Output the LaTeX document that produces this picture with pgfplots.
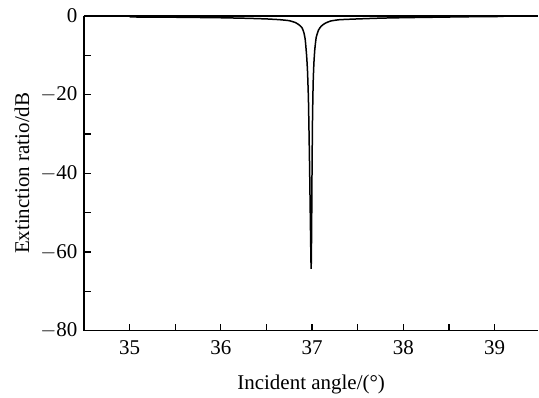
\documentclass[border=0pt]{standalone}
\usepackage{pgfplots}
\pgfplotsset{compat=1.18}
\usepackage{fontspec}
\setmainfont{Liberation Serif}

\begin{document}
\begin{tikzpicture}
\begin{axis}[
    width=455pt, height=315pt,
    scale only axis,
    xmin=34.5, xmax=39.48,
    ymin=-80, ymax=0,
    axis lines*=left,
    axis line style={line width=1.2pt},
    tick align=inside,
    tick style={line width=1.2pt, black},
    major tick length=7pt,
    minor tick length=7pt,
    xtick={35,36,37,38,39},
    minor xtick={35.5,36.5,37.5,38.5},
    ytick={-80,-60,-40,-20,0},
    minor ytick={-70,-50,-30,-10},
    yticklabels={$-$80,$-$60,$-$40,$-$20,0},
    font=\fontsize{21}{24}\selectfont,
    tick label style={font=\fontsize{21}{24}\selectfont},
    label style={font=\fontsize{21}{24}\selectfont},
    /pgf/number format/assume math mode=true,
    xlabel={Incident angle/(\textdegree)},
    ylabel={Extinction ratio/dB},
    xticklabel style={yshift=-6pt},
    yticklabel style={xshift=-3pt},
    xlabel style={yshift=-14pt},
    ylabel style={yshift=4pt},
    clip=false,
]
\draw[line width=1.2pt] (rel axis cs:0,1) -- (rel axis cs:1,1);
\addplot[black, line width=1.5pt, smooth, tension=0.3] coordinates {
(35.0,-0.25) (35.5,-0.32) (36.0,-0.45) (36.3,-0.6) (36.5,-0.75)
(36.65,-0.95) (36.75,-1.2) (36.82,-1.7) (36.86,-2.3) (36.89,-3.0)
(36.91,-4.2) (36.925,-6) (36.94,-10) (36.95,-14) (36.96,-21)
(36.967,-30) (36.974,-40) (36.98,-50) (36.985,-58) (36.99,-64.3)
(36.995,-55) (37.0,-38) (37.005,-26) (37.012,-17) (37.02,-12)
(37.03,-8.5) (37.045,-5.5) (37.07,-3.6) (37.1,-2.6) (37.14,-1.9)
(37.2,-1.3) (37.3,-0.95) (37.5,-0.75) (37.75,-0.55) (38.0,-0.43)
(38.3,-0.33) (38.7,-0.2) (39.1,-0.12)
};
\end{axis}
\path ([xshift=-84pt,yshift=-65pt]current axis.south west) rectangle ([yshift=16pt]current axis.north east);
\end{tikzpicture}
\end{document}
